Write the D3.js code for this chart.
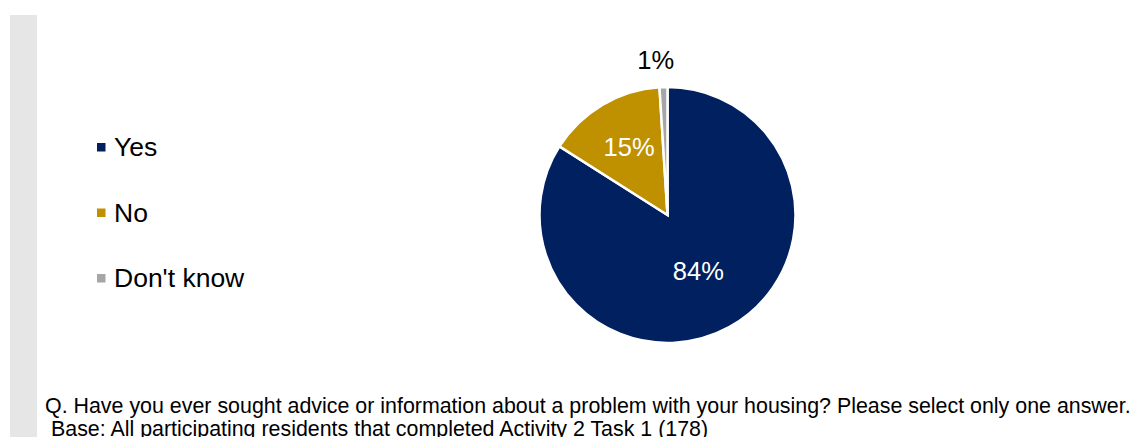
<!DOCTYPE html>
<html>
<head>
  <title>Sought advice about housing</title>
  <style>
    body {
      margin: 0;
      padding: 0;
      background-color: #fff;
      font-family: Arial, "Liberation Sans", sans-serif;
    }
    svg text {
      font-family: Arial, "Liberation Sans", sans-serif;
    }
  </style>
</head>
<body>
  <div id="chart"></div>

  <script src="https://d3js.org/d3.v7.min.js"></script>
  <script>
    var categories = ["Yes", "No", "Don't know"];
    var values = [84, 15, 1];
    var labels = ["84%", "15%", "1%"];
    var colors = ["#002060", "#BF9000", "#A6A6A6"];

    var width = 1135, height = 437;
    var cx = 667.5, cy = 215, radius = 128;

    var svg = d3.select("#chart")
      .append("svg")
      .attr("width", width)
      .attr("height", height);

    // grey strip on the left
    svg.append("rect")
      .attr("x", 10)
      .attr("y", 15)
      .attr("width", 27)
      .attr("height", height - 15)
      .attr("fill", "#E6E6E6");

    var pie = d3.pie()
      .sort(null)
      .value(function (d) { return d; });

    var arc = d3.arc()
      .innerRadius(0)
      .outerRadius(radius);

    var arcs = pie(values);

    var g = svg.append("g")
      .attr("transform", "translate(" + cx + "," + cy + ")");

    g.selectAll("path")
      .data(arcs)
      .enter()
      .append("path")
      .attr("d", arc)
      .attr("fill", function (d, i) { return colors[i]; })
      .attr("stroke", "#fff")
      .attr("stroke-width", 2.5)
      .attr("stroke-linejoin", "miter");

    // label radius per slice (Excel puts them a bit differently)
    var labelR = [0.5, 0.62, 1.21];
    var labelColor = ["#fff", "#fff", "#000"];

    g.selectAll("text.lbl")
      .data(arcs)
      .enter()
      .append("text")
      .attr("class", "lbl")
      .attr("transform", function (d, i) {
        var r = radius * labelR[i];
        var c = d3.arc().innerRadius(r).outerRadius(r).centroid(d);
        if (i === 1) c[0] += 2;
        if (i === 2) c[0] -= 7;
        return "translate(" + c + ")";
      })
      .attr("text-anchor", "middle")
      .attr("dy", "0.35em")
      .attr("font-size", 25.5)
      .attr("fill", function (d, i) { return labelColor[i]; })
      .text(function (d, i) { return labels[i]; });

    // legend
    var legend = svg.append("g")
      .attr("transform", "translate(97,147)");

    var item = legend.selectAll("g")
      .data(categories)
      .enter()
      .append("g")
      .attr("transform", function (d, i) { return "translate(0," + (i * 65.5) + ")"; });

    item.append("rect")
      .attr("x", 0)
      .attr("y", -4)
      .attr("width", 8.5)
      .attr("height", 8.5)
      .attr("fill", function (d, i) { return colors[i]; });

    item.append("text")
      .attr("x", 17)
      .attr("y", 9)
      .attr("font-size", 26.5)
      .attr("fill", "#000")
      .text(function (d) { return d; });

    // footnote
    svg.append("text")
      .attr("x", 45)
      .attr("y", 413)
      .attr("font-size", 21.4)
      .attr("fill", "#000")
      .text("Q. Have you ever sought advice or information about a problem with your housing? Please select only one answer.");

    svg.append("text")
      .attr("x", 51)
      .attr("y", 436)
      .attr("font-size", 21.4)
      .attr("fill", "#000")
      .text("Base: All participating residents that completed Activity 2 Task 1 (178)");
  </script>
</body>
</html>
